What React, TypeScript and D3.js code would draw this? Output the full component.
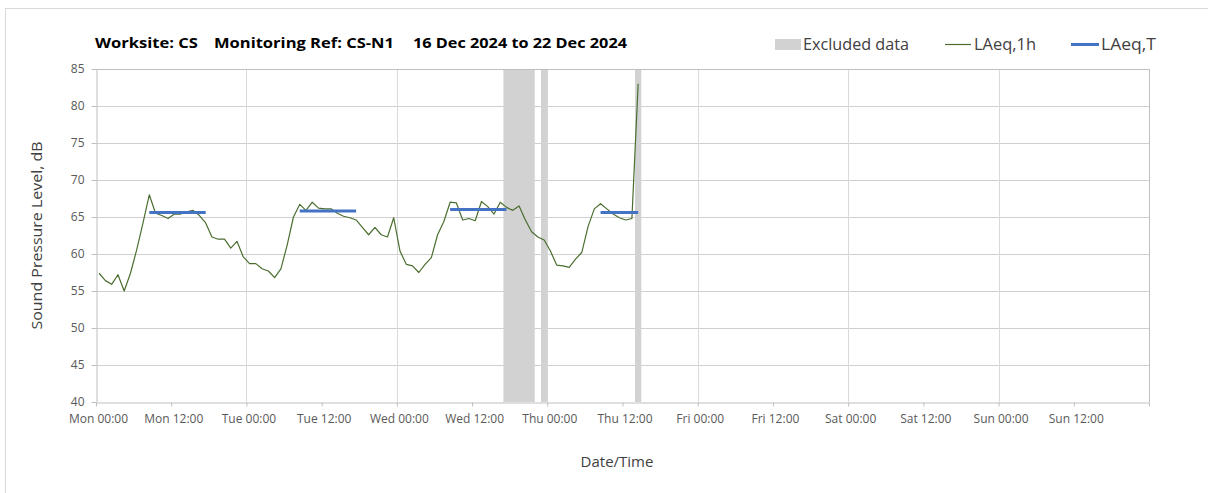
import React, { useEffect, useRef } from 'react';
import * as d3 from 'd3';

const START = new Date(2024, 11, 16, 0, 0);
const END = new Date(2024, 11, 23, 0, 0);
const HOUR = 3600 * 1000;

// LAeq,1h in dB, one value per hour starting Mon 16 Dec 00:00
const laeq1h = [
  57.4, 56.4, 55.9, 57.2, 55.0, 57.4, 60.6, 64.2, 68.0, 65.5, 65.2, 64.8,
  65.4, 65.4, 65.7, 65.9, 65.2, 64.2, 62.3, 62.0, 62.0, 60.8, 61.7, 59.6,
  58.7, 58.7, 58.0, 57.7, 56.8, 58.0, 61.2, 65.0, 66.7, 65.9, 67.0, 66.2,
  66.1, 66.1, 65.5, 65.1, 64.9, 64.6, 63.6, 62.6, 63.6, 62.6, 62.3, 64.9,
  60.4, 58.6, 58.4, 57.5, 58.6, 59.5, 62.6, 64.4, 67.0, 66.9, 64.6, 64.8,
  64.5, 67.1, 66.4, 65.4, 67.0, 66.3, 65.9, 66.5, 64.6, 63.0, 62.3, 61.9,
  60.4, 58.5, 58.4, 58.2, 59.3, 60.2, 63.7, 66.1, 66.8, 66.1, 65.4, 64.9,
  64.6, 64.8, 83.0,
];

// LAeq,T day periods: first and last hourly index, level in dB
const laeqTFrom = [8, 32, 56, 80];
const laeqTTo = [17, 41, 65, 86];
const laeqTValue = [65.6, 65.8, 66.0, 65.6];

// excluded periods, in hours after Mon 00:00
const excludedFrom = [65, 71, 86];
const excludedTo = [70, 72, 87];

const yTicks = [40, 45, 50, 55, 60, 65, 70, 75, 80, 85];
const xTickLabels = [
  'Mon 00:00', 'Mon 12:00', 'Tue 00:00', 'Tue 12:00', 'Wed 00:00', 'Wed 12:00',
  'Thu 00:00', 'Thu 12:00', 'Fri 00:00', 'Fri 12:00', 'Sat 00:00', 'Sat 12:00',
  'Sun 00:00', 'Sun 12:00', '',
];

const FONT = "'Open Sans', 'Noto Sans', sans-serif";

export default function App() {
  const ref = useRef<SVGSVGElement | null>(null);

  useEffect(() => {
    const svg = d3.select(ref.current);
    svg.selectAll('*').remove();

    const left = 96, right = 1149, top = 69, bottom = 402;

    const x = d3.scaleTime().domain([START, END]).range([left, right]);
    const y = d3.scaleLinear().domain([40, 85]).range([bottom, top]);
    const at = (h: number) => new Date(START.getTime() + h * HOUR);

    // outer chart border
    svg.append('rect')
      .attr('x', 5.5).attr('y', 8.5)
      .attr('width', 1210).attr('height', 500)
      .attr('fill', '#fff').attr('stroke', '#d9d9d9');

    // gridlines
    svg.append('g').selectAll('line').data(yTicks.slice(1)).join('line')
      .attr('x1', left).attr('x2', right)
      .attr('y1', d => Math.round(y(d)) + 0.5).attr('y2', d => Math.round(y(d)) + 0.5)
      .attr('stroke', '#d0d0d0');

    const days = d3.timeDay.range(at(24), at(24 * 7 + 1));
    svg.append('g').selectAll('line').data(days).join('line')
      .attr('x1', d => Math.round(x(d)) + 0.5).attr('x2', d => Math.round(x(d)) + 0.5)
      .attr('y1', top).attr('y2', bottom)
      .attr('stroke', '#dadada');

    // excluded data
    svg.append('g').selectAll('rect').data(excludedFrom).join('rect')
      .attr('x', (d) => x(at(d)))
      .attr('width', (d, i) => x(at(excludedTo[i])) - x(at(d)))
      .attr('y', top).attr('height', bottom - top)
      .attr('fill', '#d2d2d2');

    // plot border top/right
    svg.append('path')
      .attr('d', `M${left},${top + 0.5}H${right + 0.5}V${bottom}`)
      .attr('fill', 'none').attr('stroke', '#bfbfbf');

    // axes
    const xTicks = d3.timeHour.every(12)!.range(START, at(24 * 7 + 1));
    const gx = svg.append('g')
      .attr('transform', `translate(0,${bottom + 0.5})`)
      .call(d3.axisBottom(x).tickValues(xTicks).tickSize(4).tickSizeOuter(0).tickPadding(8)
        .tickFormat((d, i) => xTickLabels[i]));
    gx.select('.domain').attr('stroke', '#bfbfbf');
    gx.selectAll('.tick line').attr('stroke', '#bfbfbf');
    gx.selectAll('.tick text')
      .attr('dx', 2)
      .attr('font-family', FONT).attr('font-size', 12).attr('fill', '#595959');

    const gy = svg.append('g')
      .attr('transform', `translate(${left + 0.5},0)`)
      .call(d3.axisLeft(y).tickValues(yTicks).tickSize(5).tickSizeOuter(0).tickPadding(7));
    gy.select('.domain').attr('stroke', '#bfbfbf');
    gy.selectAll('.tick line').attr('stroke', '#bfbfbf');
    gy.selectAll('.tick text')
      .attr('font-family', FONT).attr('font-size', 12).attr('fill', '#595959');

    // LAeq,1h
    const line = d3.line<number>()
      .x((d, i) => x(at(i + 0.5)))
      .y(d => y(d));
    svg.append('path')
      .datum(laeq1h)
      .attr('fill', 'none')
      .attr('stroke', '#4b6e2f')
      .attr('stroke-width', 1.2)
      .attr('stroke-linejoin', 'round')
      .attr('d', line);

    // LAeq,T
    svg.append('g').selectAll('line').data(laeqTValue).join('line')
      .attr('x1', (d, i) => x(at(laeqTFrom[i] + 0.5)))
      .attr('x2', (d, i) => x(at(laeqTTo[i] + 0.5)))
      .attr('y1', d => y(d)).attr('y2', d => y(d))
      .attr('stroke', '#4472c4').attr('stroke-width', 3);

    // title
    const title = svg.append('g')
      .attr('font-family', FONT).attr('font-size', 15).attr('font-weight', 'bold').attr('fill', '#000');
    [['Worksite: CS', 95, 103], ['Monitoring Ref: CS-N1', 214, 180], ['16 Dec 2024 to 22 Dec 2024', 413, 214]]
      .forEach(([t, tx, tl]) => {
        title.append('text').attr('x', tx).attr('y', 48)
          .attr('textLength', tl).attr('lengthAdjust', 'spacingAndGlyphs').text(t as string);
      });

    // legend
    const lg = svg.append('g').attr('font-family', FONT).attr('font-size', 15.5).attr('fill', '#404040');
    lg.append('rect').attr('x', 775).attr('y', 39).attr('width', 26).attr('height', 11).attr('fill', '#d2d2d2');
    lg.append('text').attr('x', 803).attr('y', 50).attr('textLength', 106)
      .attr('lengthAdjust', 'spacingAndGlyphs').text('Excluded data');
    lg.append('line').attr('x1', 945).attr('x2', 971).attr('y1', 44.5).attr('y2', 44.5)
      .attr('stroke', '#4b6e2f').attr('stroke-width', 1.2);
    lg.append('text').attr('x', 974).attr('y', 50).attr('textLength', 62)
      .attr('lengthAdjust', 'spacingAndGlyphs').text('LAeq,1h');
    lg.append('line').attr('x1', 1071).attr('x2', 1099).attr('y1', 44.5).attr('y2', 44.5)
      .attr('stroke', '#4472c4').attr('stroke-width', 3);
    lg.append('text').attr('x', 1101).attr('y', 50).attr('textLength', 55)
      .attr('lengthAdjust', 'spacingAndGlyphs').text('LAeq,T');

    // axis titles
    svg.append('text')
      .attr('transform', `translate(42,${(top + bottom) / 2}) rotate(-90)`)
      .attr('text-anchor', 'middle')
      .attr('font-family', FONT).attr('font-size', 15).attr('fill', '#404040')
      .attr('textLength', 188).attr('lengthAdjust', 'spacingAndGlyphs')
      .text('Sound Pressure Level, dB');

    svg.append('text')
      .attr('x', 617).attr('y', 467)
      .attr('text-anchor', 'middle')
      .attr('font-family', FONT).attr('font-size', 15).attr('fill', '#404040')
      .text('Date/Time');
  }, []);

  return (
    <svg
      ref={ref}
      width={1208}
      height={493}
      style={{ position: 'absolute', left: 0, top: 0, background: '#fff' }}
    />
  );
}
